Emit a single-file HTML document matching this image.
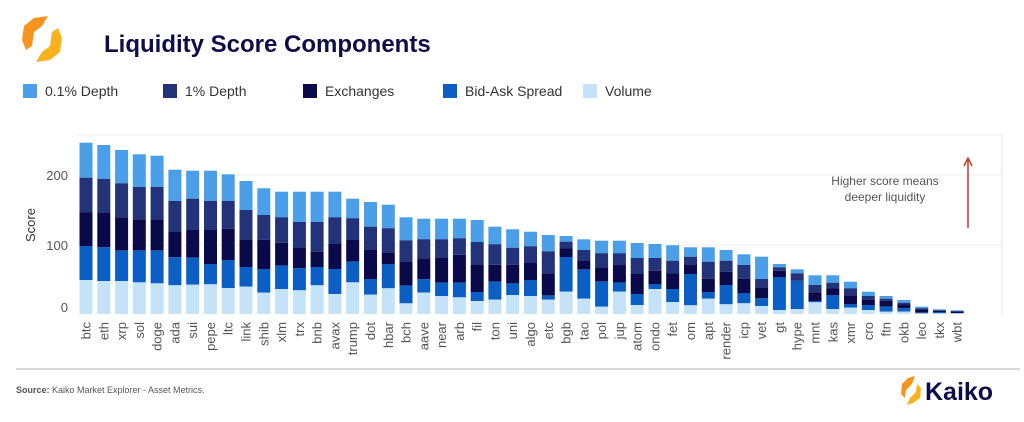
<!DOCTYPE html>
<html><head><meta charset="utf-8"><style>
body{margin:0;width:1024px;height:417px;background:#fff;overflow:hidden;font-family:"Liberation Sans",sans-serif}
</style></head><body>
<svg id="s" width="1024" height="417" xmlns="http://www.w3.org/2000/svg" font-family="Liberation Sans, sans-serif">
<g>
<polygon points="34,18 48,16 42,26 34,32 32,46 26,50 22,40 24,26" fill="#f7941d"/>
<polygon points="50,60 36,62 42,52 50,46 52,32 58,28 62,38 60,52" fill="#f7b21d"/>
</g>
<text x="104" y="52" font-size="24" font-weight="bold" fill="#0d0d4a">Liquidity Score Components</text>
<g font-size="14" fill="#333">
<rect x="23" y="84" width="14" height="14" fill="#4a9fe8"/><text x="45" y="96">0.1% Depth</text>
<rect x="163" y="84" width="14" height="14" fill="#23337a"/><text x="185" y="96">1% Depth</text>
<rect x="303" y="84" width="14" height="14" fill="#0a0a4a"/><text x="325" y="96">Exchanges</text>
<rect x="443" y="84" width="14" height="14" fill="#0b5fc4"/><text x="465" y="96">Bid-Ask Spread</text>
<rect x="583" y="84" width="14" height="14" fill="#c4e3f8"/><text x="605" y="96">Volume</text>
</g>
<line x1="78" y1="135" x2="1002" y2="135" stroke="#eee"/>
<line x1="1002" y1="135" x2="1002" y2="315" stroke="#e6e6e6"/>
<line x1="78" y1="175" x2="1002" y2="175" stroke="#eee"/>
<line x1="78" y1="245" x2="1002" y2="245" stroke="#eee"/>
<g font-size="13" fill="#555" text-anchor="end">
<text x="68" y="180">200</text><text x="68" y="250">100</text><text x="68" y="312">0</text>
</g>
<text transform="translate(35,225) rotate(-90)" font-size="13" fill="#333" text-anchor="middle">Score</text>
<g id="bars"></g>
<g font-size="12" fill="#555" text-anchor="middle">
<text x="885" y="185">Higher score means</text>
<text x="885" y="201">deeper liquidity</text>
</g>
<line x1="968" y1="228" x2="968" y2="160" stroke="#c0392b" stroke-width="1.5"/>
<polyline points="964,166 968,158 972,166" fill="none" stroke="#c0392b" stroke-width="1.5"/>
<line x1="16" y1="369" x2="1020" y2="369" stroke="#ccc" stroke-width="1.5"/>
<text x="16" y="393" font-size="9" fill="#555"><tspan font-weight="bold">Source:</tspan> Kaiko Market Explorer - Asset Metrics.</text>
<g>
<polygon points="908,378 915,376 912,384 906,390 905,398 901,394 902,384" fill="#f7941d"/>
<polygon points="913,403 907,405 910,398 916,392 917,384 921,388 920,398" fill="#f7b21d"/>
</g>
<text x="925" y="400" font-size="25" font-weight="bold" fill="#0d0d4a">Kaiko</text>
</svg>
<script>
var names="btc eth xrp sol doge ada sui pepe ltc link shib xlm trx bnb avax trump dot hbar bch aave near arb fil ton uni algo etc bgb tao pol jup atom ondo fet om apt render icp vet gt hype mnt kas xmr cro ftn okb leo tkx wbt".split(" ");
var d=[[450,348,247,143,38],[453,352,247,147,45],[453,362,262,160,60],[457,362,268,171,73],[460,362,268,171,77],[466,382,306,213,119],[464,383,300,206,122],[463,402,300,213,122],[474,390,296,213,133],[470,411,328,240,153],[488,417,329,255,175],[477,407,338,262,185],[481,415,354,276,185],[466,411,365,276,185],[492,417,342,262,185],
[206,265,330,395,457],[216,290,360,447,494],[224,295,367,402,475],[262,331,396,467,520],[266,328,385,448,488],[266,328,384,458,498],[266,325,374,458,502],[270,336,403,486,513],[290,343,404,455,509],[298,353,404,460,495],[305,349,399,450,498],[315,364,430,497,509],[318,335,355,381,485],[328,360,391,419,506],[332,370,412,455,530],[332,370,405,458,485],[339,384,432,492,525],[342,384,422,463,477],[346,392,430,477,516],[352,380,405,432,526],[352,395,446,486,506],[360,392,425,465,523],[373,405,446,490,520],[380,447,472,505,528],[402,412,422,442,540],[418,430,448,452,537],[436,465,487,513,517],[436,458,475,495,537],[455,475,496,522,533],[485,498,510,525,540],[498,506,512,530,545],[510,518,523,535,545],[530,535,538,548,550],[538,541,543,546,550],[541,543,545,549,550]];
var cols=["#4a9fe8","#23337a","#0a0a4a","#0b5fc4","#c4e3f8"];
var h="";
for(var i=0;i<names.length;i++){
 var cx=86+i*17.78, x=cx-6.5;
 var a=d[i].slice().sort(function(p,q){return p-q});
 a.push(552);
 for(var k=0;k<5;k++){
  var y1=130+a[k]/3, y2=130+a[k+1]/3;
  h+='<rect x="'+x.toFixed(1)+'" y="'+y1.toFixed(1)+'" width="13" height="'+Math.max(0,y2-y1).toFixed(1)+'" fill="'+cols[k]+'"/>';
 }
 h+='<text transform="translate('+(cx+4.5).toFixed(1)+',322) rotate(-90)" text-anchor="end" font-size="13" fill="#555">'+names[i]+'</text>';
}
document.getElementById("bars").innerHTML=h;
</script>
</body></html>
